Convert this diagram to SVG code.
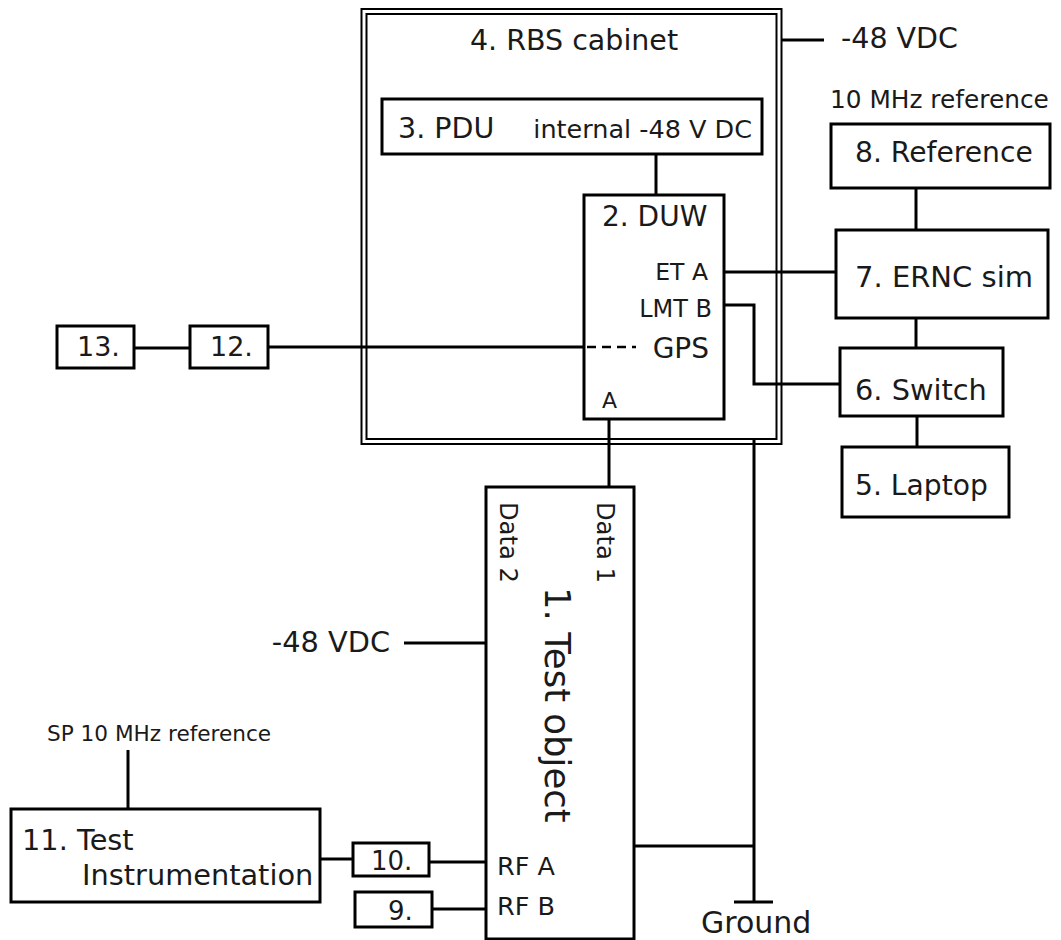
<svg xmlns="http://www.w3.org/2000/svg" width="1061" height="940" viewBox="0 0 1061 940">
<style>
text{font-family:"DejaVu Sans","Verdana",sans-serif;fill:#1a1a1a}
.box{fill:#fff;stroke:#000;stroke-width:3}
.cab{fill:none;stroke:#000;stroke-width:2}
.ln{fill:none;stroke:#000;stroke-width:3}
.dash{fill:none;stroke:#000;stroke-width:2.5;stroke-dasharray:9 6}
</style>
<rect width="1061" height="940" fill="#fff"/>
<g id="n4">
<rect x="361.5" y="9" width="420" height="435" class="cab"/>
<rect x="366.5" y="14" width="410" height="425" class="cab"/>
<text x="574" y="50" font-size="28.5" text-anchor="middle">4. RBS cabinet</text>
</g>
<g id="connectors">
<line x1="781" y1="40" x2="824" y2="40" class="ln"/>
<line x1="656" y1="154" x2="656" y2="195" class="ln"/>
<line x1="724" y1="272" x2="836" y2="272" class="ln"/>
<polyline points="724,305 754,305 754,384 840,384" class="ln"/>
<line x1="268" y1="347" x2="584" y2="347" class="ln"/>
<line x1="587" y1="347" x2="636" y2="347" class="dash"/>
<line x1="134" y1="348" x2="190" y2="348" class="ln"/>
<line x1="916" y1="188" x2="916" y2="230" class="ln"/>
<line x1="916" y1="318" x2="916" y2="348" class="ln"/>
<line x1="917" y1="416" x2="917" y2="447" class="ln"/>
<line x1="609" y1="419" x2="609" y2="487" class="ln"/>
<line x1="754" y1="439" x2="754" y2="902" class="ln"/>
<line x1="734" y1="902" x2="773" y2="902" class="ln"/>
<line x1="634" y1="846" x2="754" y2="846" class="ln"/>
<line x1="404" y1="643" x2="486" y2="643" class="ln"/>
<line x1="128" y1="750" x2="128" y2="809" class="ln"/>
<line x1="320" y1="859" x2="353" y2="859" class="ln"/>
<line x1="429" y1="862" x2="486" y2="862" class="ln"/>
<line x1="432" y1="909" x2="486" y2="909" class="ln"/>
</g>
<g id="n3">
<rect x="382" y="99" width="380" height="55" class="box"/>
<text x="398" y="138" font-size="28.5">3. PDU</text>
<text x="752" y="138" font-size="25.5" text-anchor="end">internal -48 V DC</text>
</g>
<g id="n2">
<rect x="584" y="195" width="140" height="224" class="box"/>
<text x="602" y="226" font-size="28">2. DUW</text>
<text x="708" y="280" font-size="23.5" text-anchor="end">ET A</text>
<text x="712" y="317" font-size="24" text-anchor="end">LMT B</text>
<text x="709" y="358" font-size="28" text-anchor="end">GPS</text>
<text x="602" y="408" font-size="22">A</text>
</g>
<line x1="587" y1="347" x2="636" y2="347" class="dash"/>
<g id="n13">
<rect x="57" y="326" width="77" height="42" class="box"/>
<text x="77" y="356" font-size="27">13.</text>
</g>
<g id="n12">
<rect x="190" y="326" width="78" height="42" class="box"/>
<text x="210" y="356" font-size="27">12.</text>
</g>
<g id="lbl-48top">
<text x="841" y="48" font-size="28.5">-48 VDC</text>
</g>
<g id="n8">
<text x="830" y="108" font-size="24.8">10 MHz reference</text>
<rect x="831" y="124" width="219" height="64" class="box"/>
<text x="855" y="162" font-size="28.2">8. Reference</text>
</g>
<g id="n7">
<rect x="836" y="230" width="212" height="88" class="box"/>
<text x="855" y="287" font-size="29">7. ERNC sim</text>
</g>
<g id="n6">
<rect x="840" y="348" width="163" height="68" class="box"/>
<text x="855" y="400" font-size="28.8">6. Switch</text>
</g>
<g id="n5">
<rect x="842" y="447" width="167" height="70" class="box"/>
<text x="855" y="495" font-size="28.2">5. Laptop</text>
</g>
<g id="n1">
<rect x="486" y="487" width="148" height="452" class="box"/>
<text transform="translate(500,502) rotate(90)" font-size="24.2">Data 2</text>
<text transform="translate(597,502) rotate(90)" font-size="24.2">Data 1</text>
<text transform="translate(545,587) rotate(90)" font-size="35.5">1. Test object</text>
<text x="497" y="875" font-size="25.5">RF A</text>
<text x="497" y="915" font-size="25.5">RF B</text>
</g>
<g id="lbl-48left">
<text x="390" y="652" font-size="28.8" text-anchor="end">-48 VDC</text>
</g>
<g id="n11">
<text x="47" y="741" font-size="21.6">SP 10 MHz reference</text>
<rect x="11" y="809" width="309" height="93" class="box"/>
<text x="22" y="850" font-size="28.8">11. Test</text>
<text x="82" y="885" font-size="28.8">Instrumentation</text>
</g>
<g id="n10">
<rect x="353" y="843" width="76" height="33" class="box"/>
<text x="371" y="870" font-size="26">10.</text>
</g>
<g id="n9">
<rect x="355" y="892" width="77" height="35" class="box"/>
<text x="388" y="920" font-size="26">9.</text>
</g>
<g id="ground">
<text x="701" y="933" font-size="30">Ground</text>
</g>
</svg>
